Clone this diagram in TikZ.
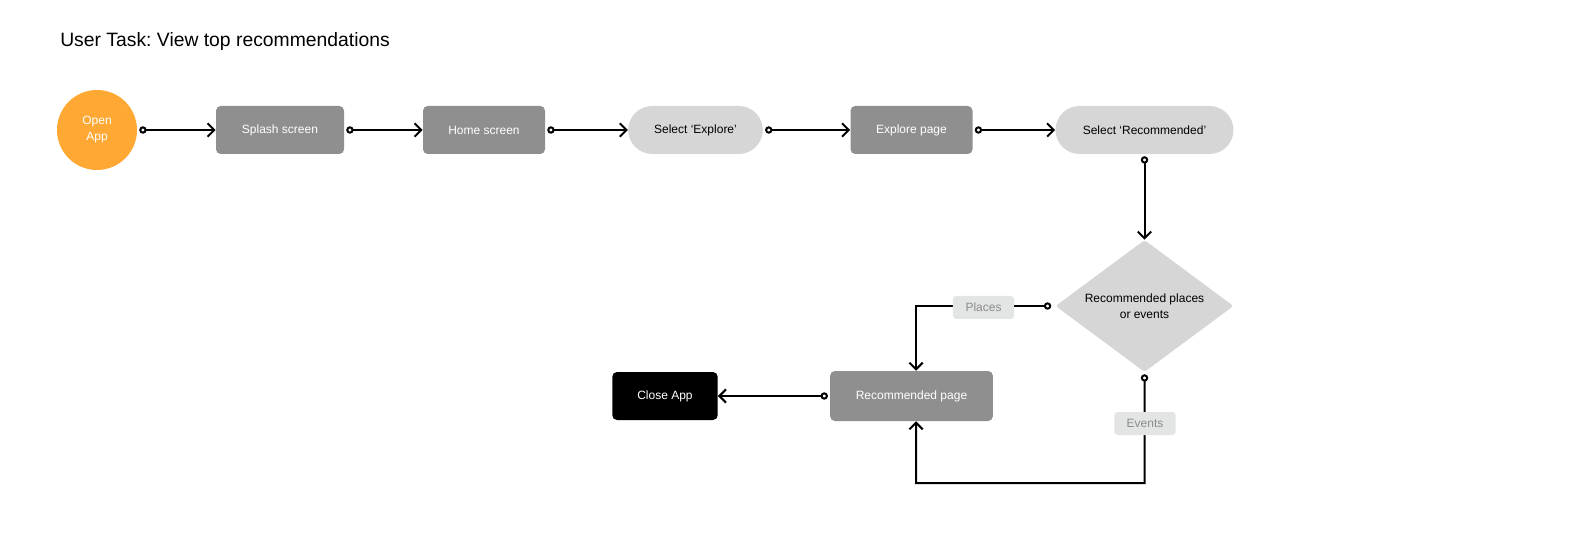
\documentclass[tikz,border=0pt]{standalone}
\usepackage{xcolor}
\usepackage{fontspec}
\setmainfont{Liberation Sans}
\usepackage{tikz}
\usetikzlibrary{arrows.meta}
\usetikzlibrary{shapes.geometric}
\definecolor{appOrange}{HTML}{FFA833}
\definecolor{screenGray}{HTML}{8F8F8F}
\definecolor{actionGray}{HTML}{D6D6D6}
\definecolor{tagFill}{HTML}{E3E4E4}
\definecolor{tagText}{HTML}{8C8C8C}
\frenchspacing
\tikzset{>={Straight Barb[length=5pt,width=10pt]}}
\tikzstyle{boxfont} = [font=\fontsize{9}{12}\selectfont]
\tikzstyle{screen} = [rectangle, rounded corners=3.5pt, fill=screenGray, text=white, minimum height=36pt, inner sep=0pt, boxfont]
\tikzstyle{action} = [rectangle, rounded corners=18pt, fill=actionGray, text=black, minimum height=36pt, inner sep=0pt, boxfont]
\tikzstyle{tag} = [rectangle, rounded corners=2.5pt, fill=tagFill, text=tagText, minimum width=46pt, minimum height=17.25pt, inner sep=0pt, boxfont]
\tikzstyle{flow} = [{Circle[open,length=5.5pt,width=5.5pt]}-{Straight Barb[length=5pt,width=10pt]}, line width=1.5pt, shorten <=1.5pt]

\begin{document}
\begin{tikzpicture}[x=0.75pt, y=-0.75pt]
\useasboundingbox (0,0) rectangle (1596,552);
\node [anchor=base west, inner sep=0pt, font=\fontsize{14.5}{17}\selectfont] (title) at (60,47) {User Task: View top recommendations};

\node [circle, fill=appOrange, text=white, minimum size=60pt, inner sep=0pt, align=center, boxfont] (open) at (97,130) {Open\\App};
\node [screen, minimum width=96pt] (splash) at (280,130) {Splash screen};
\node [screen, minimum width=91.5pt] (home) at (484,130) {Home screen};
\node [action, minimum width=101pt] (explore) at (695.5,130) {Select `Explore'};
\node [screen, minimum width=91.5pt] (explorepage) at (911.5,130) {Explore page};
\node [action, minimum width=133.5pt] (selrec) at (1144.5,130) {Select `Recommended'};
\node [diamond, aspect=1.35, fill=actionGray, rounded corners=2pt, minimum width=133.5pt, minimum height=99pt, inner sep=0pt, align=center, boxfont] (choice) at (1144.5,306) {Recommended places\\or events};
\node [screen, minimum width=122pt, minimum height=37.5pt] (recpage) at (911.5,396) {Recommended page};
\node [screen, fill=black, minimum width=79pt] (close) at (665,396) {Close App};
\coordinate (loop) at (916,483);

\draw [flow] (open) to (splash);
\draw [flow] (splash) to (home);
\draw [flow] (home) to (explore);
\draw [flow] (explore) to (explorepage);
\draw [flow] (explorepage) to (selrec);
\draw [flow] (selrec) to (choice);
\draw [flow, shorten <=3pt] (choice.west) -| ([xshift=3.4pt]recpage.north);
\draw [flow] (choice.south) |- (loop) -- ([xshift=3.4pt]recpage.south);
\draw [flow] (recpage) to (close);

\node [tag] (places) at (983.5,307.5) {Places};
\node [tag] (events) at (1145,423.5) {Events};
\end{tikzpicture}
\end{document}
